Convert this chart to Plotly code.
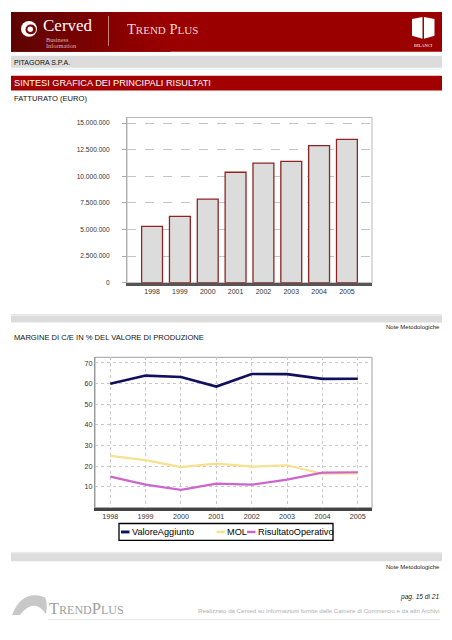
import plotly.graph_objects as go

# The page body has an 8px margin, so the figure is drawn 8px in from the top-left.
OFF = 8
W, H = 452 - 2 * OFF, 640 - 2 * OFF

# ---------------- data ----------------
years = ["1998", "1999", "2000", "2001", "2002", "2003", "2004", "2005"]
fatturato = [5300000, 6240000, 7860000, 10380000, 11230000, 11410000, 12880000, 13470000]

series_names = ["ValoreAggiunto", "MOL", "RisultatoOperativo"]
valore_aggiunto = [59.9, 63.9, 63.2, 58.6, 64.7, 64.6, 62.3, 62.4]
mol = [25.0, 23.0, 19.6, 21.3, 19.8, 20.5, 16.4, 16.6]
risultato_operativo = [15.0, 11.1, 8.6, 11.6, 11.1, 13.5, 16.9, 17.1]
series_values = [valore_aggiunto, mol, risultato_operativo]
series_colors = ["#10105e", "#f7e08e", "#cc66cc"]
series_widths = [2.6, 2.2, 2.2]

bar_yticks = [0, 2500000, 5000000, 7500000, 10000000, 12500000, 15000000]
line_yticks = [10, 20, 30, 40, 50, 60, 70]

FONT = "Liberation Sans, Arial, sans-serif"
SERIF = "Liberation Serif, DejaVu Serif, serif"


def px(x):
    return (x - OFF) / W


def py(y):
    return 1 - (y - OFF) / H


fig = go.Figure()

fig.add_trace(go.Bar(
    x=years, y=fatturato, xaxis="x", yaxis="y",
    width=0.75,
    marker=dict(color="#dcdcdc", line=dict(color="#8e2424", width=1.3)),
    showlegend=False, hoverinfo="x+y",
))

for name, vals, col, lw in zip(series_names, series_values, series_colors, series_widths):
    fig.add_trace(go.Scatter(
        x=years, y=vals, xaxis="x2", yaxis="y2", mode="lines", name=name,
        line=dict(color=col, width=lw), showlegend=False,
    ))

shapes = []
ann = []


def rect(x0, y0, x1, y1, fill, line=None, lw=0, layer="below"):
    shapes.append(dict(type="rect", xref="paper", yref="paper",
                       x0=px(x0), x1=px(x1), y0=py(y1), y1=py(y0),
                       fillcolor=fill, line=dict(color=line or fill, width=lw), layer=layer))


def hline(x0, x1, y, color, lw=1):
    shapes.append(dict(type="line", xref="paper", yref="paper",
                       x0=px(x0), x1=px(x1), y0=py(y), y1=py(y),
                       line=dict(color=color, width=lw)))


def text(x, y, s, size, color="#000", anchor="left", family=FONT, height=None):
    a = dict(xref="paper", yref="paper", x=px(x), y=py(y), text=s,
             showarrow=False, xanchor=anchor, yanchor="middle",
             font=dict(size=size, color=color, family=family))
    if height:
        a["height"] = height
    ann.append(a)


# ---------------- header banner with gradient ----------------
rect(11, 12, 442, 52, "#9b0000")
n = 30
x_start, x_end = 11, 170
c0 = (0x5e, 0x04, 0x04)
c1 = (0x9b, 0x00, 0x00)
for i in range(n):
    t = i / (n - 1)
    c = tuple(int(c0[k] + (c1[k] - c0[k]) * t) for k in range(3))
    xa = x_start + (x_end - x_start) * i / n
    xb = x_start + (x_end - x_start) * (i + 1) / n + 0.5
    rect(xa, 12, xb, 52, "rgb(%d,%d,%d)" % c)

# Cerved logo swirl
shapes.append(dict(type="circle", xref="paper", yref="paper",
                   x0=px(21), x1=px(37), y0=py(37), y1=py(21),
                   fillcolor="white", line=dict(color="white", width=0)))
shapes.append(dict(type="circle", xref="paper", yref="paper",
                   x0=px(25.5), x1=px(36), y0=py(34.5), y1=py(24.5),
                   fillcolor="#7a0202", line=dict(color="#7a0202", width=0)))
shapes.append(dict(type="circle", xref="paper", yref="paper",
                   x0=px(27.5), x1=px(33), y0=py(32), y1=py(26.5),
                   fillcolor="white", line=dict(color="white", width=0)))
text(41, 25.3, "Cerved", 17, "white", family=SERIF, height=14)
text(44, 39.0, "Business", 6.3, "#e0b0b0", family=SERIF, height=6)
text(44, 44.8, "Information", 6.3, "#e0b0b0", family=SERIF, height=6)
shapes.append(dict(type="line", xref="paper", yref="paper",
                   x0=px(108.5), x1=px(108.5), y0=py(46), y1=py(16),
                   line=dict(color="#d08080", width=1)))
text(125, 29, "T<span style='font-size:11px'>REND</span> P<span style='font-size:11px'>LUS</span>",
     14.5, "#f3d8d8", family=SERIF)

# book icon
shapes.append(dict(type="path", xref="paper", yref="paper",
                   path="M %f %f L %f %f L %f %f L %f %f Z" % (
                       px(412), py(19), px(422.5), py(17), px(422.5), py(39), px(412), py(36)),
                   fillcolor="white", line=dict(color="white", width=0)))
shapes.append(dict(type="path", xref="paper", yref="paper",
                   path="M %f %f L %f %f L %f %f L %f %f Z" % (
                       px(424), py(17), px(434.5), py(19), px(434.5), py(36), px(424), py(39)),
                   fillcolor="white", line=dict(color="white", width=0)))
text(423.5, 45.5, "BILANCI", 4.5, "white", anchor="center", family=SERIF)

# company bar
rect(11, 56, 442, 68, "#dcdcdc")
hline(11, 442, 69.5, "#e4eef2", 1)
text(11.5, 62.3, "PITAGORA S.P.A.", 7.0, "#111")

# red section bar
rect(11, 76, 442, 91, "#a30000")
text(11.5, 83.5, "SINTESI GRAFICA DEI PRINCIPALI RISULTATI", 9.2, "white")
text(11.5, 98.5, "FATTURATO (EURO)", 7.6, "#111")

# middle grey bar
hline(11, 442, 316, "#e6e6e6", 1)
rect(11, 317, 442, 324, "#dcdcdc")
text(441.5, 328.5, "Note Metodologiche", 6.0, "#222", anchor="right")
text(11.5, 339.5, "MARGINE DI C/E IN % DEL VALORE DI PRODUZIONE", 7.6, "#111")

# bottom grey bar
hline(11, 442, 555, "#e6e6e6", 1)
rect(11, 556, 442, 564, "#dcdcdc")
text(441.5, 569.5, "Note Metodologiche", 6.0, "#222", anchor="right")

# footer
shapes.append(dict(type="path", xref="paper", yref="paper",
                   path="M %f %f Q %f %f %f %f Q %f %f %f %f Q %f %f %f %f Z" % (
                       px(12), py(618),
                       px(22), py(592), px(45), py(600),
                       px(48), py(606), px(46), py(617),
                       px(34), py(600), px(20), py(618)),
                   fillcolor="#c8c8c8", line=dict(color="#c8c8c8", width=0)))
text(47, 611, "T<span style='font-size:12px'>REND</span>P<span style='font-size:12px'>LUS</span>",
     16.5, "#a0a0a0", family=SERIF)
hline(48, 440, 622.5, "#e8e8e8", 1)
text(441, 599.5, "<i>pag. 15 di 21</i>", 6.6, "#222", anchor="right")
text(441, 613.5, "Realizzato da Cerved su informazioni fornite dalle Camere di Commercio e da altri Archivi",
     6.1, "#b0b0b0", anchor="right")

# chart frames (light grey)
shapes.append(dict(type="rect", xref="x domain", yref="y domain", x0=0, x1=1, y0=0, y1=1,
                   line=dict(color="#b8b8b8", width=1), layer="below"))
shapes.append(dict(type="rect", xref="x2 domain", yref="y2 domain", x0=0, x1=1, y0=0, y1=1,
                   line=dict(color="#a0a0a0", width=1), layer="below"))

# manual legend
rect(119, 526, 333, 543, "white", "#000", 1.3, layer="above")
leg = [(121, 129.5, 129.5), (216.5, 225, 225.2), (247, 255.5, 255.7)]
for (l0, l1, tx), name, col, lw in zip(leg, series_names, series_colors, series_widths):
    shapes.append(dict(type="line", xref="paper", yref="paper",
                       x0=px(l0), x1=px(l1), y0=py(534.5), y1=py(534.5),
                       line=dict(color=col, width=lw + 0.3), layer="above"))
    text(tx, 534.8, name, 9.2, "#000")

fig.update_layout(
    width=W, height=H,
    margin=dict(l=0, r=0, t=0, b=0),
    paper_bgcolor="white", plot_bgcolor="white",
    separators=",.",
    font=dict(family=FONT, size=8, color="#333"),
    showlegend=False,
    bargap=0.25,
    xaxis=dict(domain=[px(127), px(372)], anchor="y", type="category",
               range=[-0.9, 7.9], showgrid=False, showline=True, linecolor="#555",
               linewidth=2.5, ticks="", tickfont=dict(size=7, color="#333"),
               fixedrange=True, zeroline=False),
    yaxis=dict(domain=[py(284), py(118)], anchor="x", range=[0, 15530000],
               tickvals=bar_yticks, tickformat=",.0f", showgrid=True,
               gridcolor="#c4c4c4", griddash="dash", gridwidth=1,
               showline=True, linecolor="#b0b0b0", linewidth=1,
               ticks="outside", ticklen=4, tickcolor="#aaa",
               ticklabelstandoff=11, tickfont=dict(size=6.6, color="#333"),
               zeroline=False, fixedrange=True),
    xaxis2=dict(domain=[px(95), px(372)], anchor="y2", type="category",
                range=[-0.43, 7.4], showgrid=True, gridcolor="#c8c8c8",
                griddash="dot", showline=True, linecolor="#444", linewidth=2.5,
                ticks="", tickfont=dict(size=7.2, color="#333"), fixedrange=True,
                zeroline=False),
    yaxis2=dict(domain=[py(510), py(359)], anchor="x2", range=[0, 72.75],
                tickvals=line_yticks, showgrid=True, gridcolor="#c8c8c8",
                griddash="dot", showline=True, linecolor="#999", linewidth=1,
                ticks="", tickfont=dict(size=7.2, color="#333"), zeroline=False,
                fixedrange=True),
    shapes=shapes,
    annotations=ann,
)

fig.write_html("out.html")
